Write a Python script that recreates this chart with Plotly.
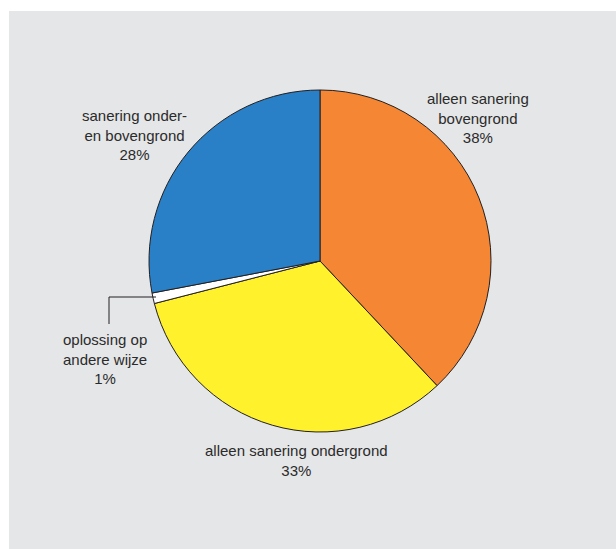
import plotly.graph_objects as go

labels = ["alleen sanering bovengrond", "alleen sanering ondergrond",
          "oplossing op andere wijze", "sanering onder- en bovengrond"]
values = [38, 33, 1, 28]
colors = ["#f58634", "#fff22d", "#ffffff", "#2a80c6"]
label_texts = ["alleen sanering<br>bovengrond<br>38%",
               "alleen sanering ondergrond<br>33%",
               "oplossing op<br>andere wijze<br>1%",
               "sanering onder-<br>en bovengrond<br>28%"]
label_pos = [(478, 118), (296, 460), (105, 359), (134, 135)]

W, H = 616, 549
cx, cy, r = 320, 261, 171
BG = "#e5e6e8"


def px(x):
    return x / W


def py(y):
    return 1 - y / H


fig = go.Figure(go.Pie(
    labels=labels, values=values, sort=False, direction="clockwise", rotation=0,
    marker=dict(colors=colors, line=dict(color="#231f20", width=1)),
    textinfo="none", hoverinfo="label+percent", showlegend=False,
    domain=dict(x=[px(cx - r), px(cx + r)], y=[py(cy + r), py(cy - r)]),
))

for t, (x, y) in zip(label_texts, label_pos):
    fig.add_annotation(text=t, x=px(x), y=py(y), xref="paper", yref="paper",
                       xanchor="center", yanchor="middle", showarrow=False, align="center",
                       font=dict(family="Liberation Sans, Arial", size=15, color="#2b2b2b"))

fig.add_shape(type="rect", xref="paper", yref="paper", x0=px(9), x1=1.05, y0=-0.05, y1=py(11),
              fillcolor=BG, line=dict(width=0), layer="below")
fig.add_shape(type="path", xref="paper", yref="paper", layer="above",
              path=f"M {px(156)} {py(297)} L {px(109)} {py(297)} L {px(109)} {py(324)}",
              line=dict(color="#231f20", width=1))

fig.update_layout(width=W, height=H, margin=dict(l=0, r=0, t=0, b=0),
                  paper_bgcolor="white")
fig.write_html("out.html", config={"displayModeBar": False},
               post_script="document.documentElement.style.margin='0';"
                           "document.body.style.margin='0';"
                           "document.body.style.overflow='hidden';"
                           f"document.body.style.background='{BG}';"
                           f"document.documentElement.style.background='{BG}';")
